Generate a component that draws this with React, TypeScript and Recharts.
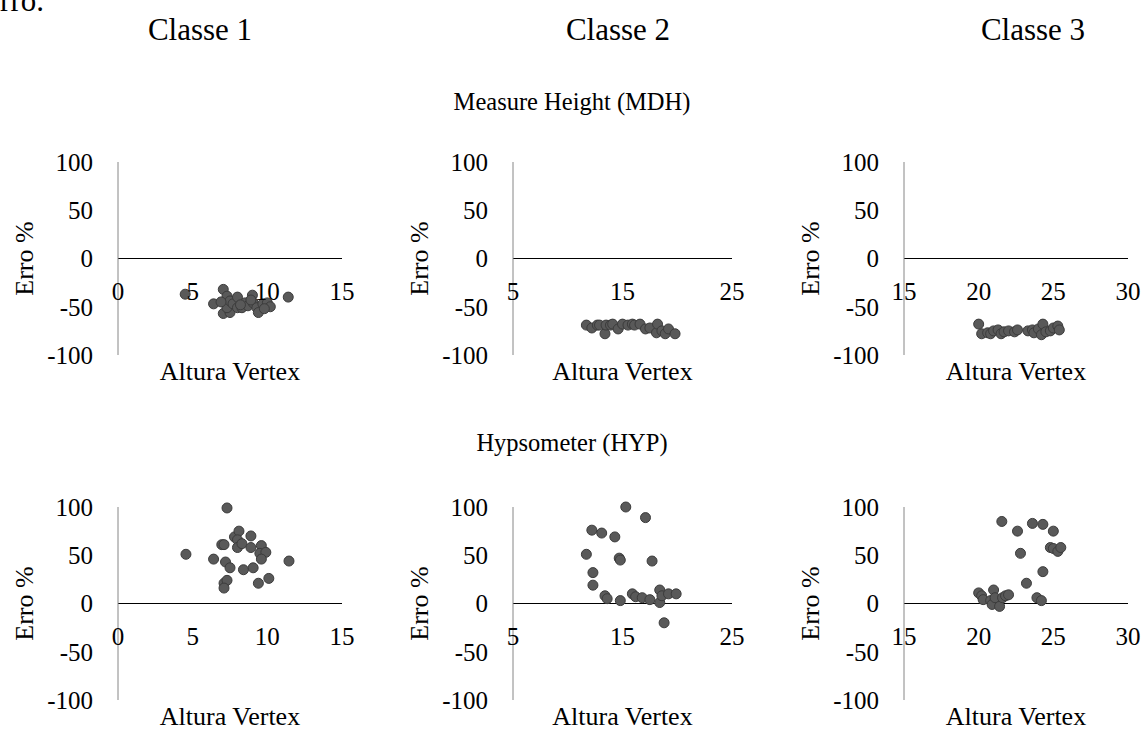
import { ScatterChart, Scatter, XAxis, YAxis, ReferenceLine, Label } from 'recharts';

const FONT = 'Liberation Serif, Times New Roman, Times, DejaVu Serif, serif';

// column / row titles
const classes = ['Classe 1', 'Classe 2', 'Classe 3'];
const rowTitles = ['Measure Height (MDH)', 'Hypsometer (HYP)'];

// x axis per class
const xDomains: [number, number][] = [
  [0, 15],
  [5, 25],
  [15, 30],
];
const xTicks = [
  [0, 5, 10, 15],
  [5, 15, 25],
  [15, 20, 25, 30],
];
const yTicks = [-100, -50, 0, 50, 100];

// MDH, Classe 1
const mdhC1 = [
  { x: 4.5, y: -37 }, { x: 7.05, y: -32 }, { x: 6.4, y: -47 }, { x: 7.3, y: -39 },
  { x: 7.05, y: -57 }, { x: 7.5, y: -56 }, { x: 7.3, y: -51 }, { x: 7.5, y: -44 },
  { x: 7.7, y: -47 }, { x: 8.0, y: -40 }, { x: 8.0, y: -51 }, { x: 8.3, y: -51 },
  { x: 8.5, y: -46 }, { x: 8.7, y: -49 }, { x: 9.0, y: -38 }, { x: 9.05, y: -46 },
  { x: 9.3, y: -51 }, { x: 9.4, y: -56 }, { x: 9.7, y: -47 }, { x: 10.0, y: -46 },
  { x: 10.2, y: -50 }, { x: 11.4, y: -40 }, { x: 8.2, y: -48 }, { x: 9.8, y: -52 },
  { x: 6.9, y: -45 }, { x: 8.9, y: -43 },
];

// MDH, Classe 2
const mdhC2 = [
  { x: 11.7, y: -69 }, { x: 12.2, y: -72 }, { x: 12.7, y: -69 }, { x: 12.9, y: -69 },
  { x: 13.4, y: -78 }, { x: 13.5, y: -69 }, { x: 13.9, y: -69 }, { x: 14.1, y: -68 },
  { x: 14.6, y: -73 }, { x: 15.0, y: -68 }, { x: 15.5, y: -69 }, { x: 15.9, y: -68 },
  { x: 16.1, y: -69 }, { x: 16.6, y: -68 }, { x: 17.1, y: -73 }, { x: 17.5, y: -72 },
  { x: 18.1, y: -77 }, { x: 18.2, y: -68 }, { x: 18.6, y: -75 }, { x: 18.9, y: -78 },
  { x: 19.2, y: -73 }, { x: 19.8, y: -78 },
];

// MDH, Classe 3
const mdhC3 = [
  { x: 20.0, y: -68 }, { x: 20.2, y: -78 }, { x: 20.6, y: -77 }, { x: 20.8, y: -78 },
  { x: 21.0, y: -75 }, { x: 21.3, y: -74 }, { x: 21.5, y: -78 }, { x: 21.7, y: -76 },
  { x: 22.0, y: -75 }, { x: 22.4, y: -76 }, { x: 22.6, y: -74 }, { x: 23.3, y: -75 },
  { x: 23.6, y: -74 }, { x: 23.7, y: -77 }, { x: 24.0, y: -73 }, { x: 24.2, y: -79 },
  { x: 24.3, y: -68 }, { x: 24.5, y: -76 }, { x: 24.8, y: -75 }, { x: 25.0, y: -72 },
  { x: 25.3, y: -70 }, { x: 25.4, y: -74 },
];

// HYP, Classe 1
const hypC1 = [
  { x: 7.3, y: 99 }, { x: 4.55, y: 51 }, { x: 6.4, y: 46 }, { x: 6.95, y: 61 },
  { x: 7.1, y: 61 }, { x: 7.2, y: 43 }, { x: 7.5, y: 37 }, { x: 7.1, y: 21 },
  { x: 7.3, y: 24 }, { x: 7.1, y: 16 }, { x: 7.8, y: 69 }, { x: 8.1, y: 75 },
  { x: 8.0, y: 66 }, { x: 8.0, y: 58 }, { x: 8.3, y: 62 }, { x: 8.4, y: 35 },
  { x: 8.9, y: 70 }, { x: 8.9, y: 58 }, { x: 9.05, y: 37 }, { x: 9.4, y: 21 },
  { x: 9.6, y: 60 }, { x: 9.5, y: 52 }, { x: 9.9, y: 53 }, { x: 9.6, y: 46 },
  { x: 10.1, y: 26 }, { x: 11.45, y: 44 },
];

// HYP, Classe 2
const hypC2 = [
  { x: 15.3, y: 100 }, { x: 17.1, y: 89 }, { x: 12.2, y: 76 }, { x: 13.1, y: 73 },
  { x: 14.3, y: 69 }, { x: 11.7, y: 51 }, { x: 14.7, y: 47 }, { x: 14.8, y: 45 },
  { x: 17.7, y: 44 }, { x: 12.3, y: 32 }, { x: 12.3, y: 19 }, { x: 13.4, y: 8 },
  { x: 13.6, y: 5 }, { x: 14.8, y: 3 }, { x: 15.9, y: 10 }, { x: 16.2, y: 7 },
  { x: 16.8, y: 6 }, { x: 17.5, y: 4 }, { x: 18.4, y: 14 }, { x: 18.4, y: 1 },
  { x: 18.6, y: 8 }, { x: 19.2, y: 10 }, { x: 19.9, y: 10 }, { x: 18.8, y: -20 },
];

// HYP, Classe 3
const hypC3 = [
  { x: 21.55, y: 85 }, { x: 23.6, y: 83 }, { x: 24.3, y: 82 }, { x: 22.6, y: 75 },
  { x: 25.0, y: 75 }, { x: 22.8, y: 52 }, { x: 24.8, y: 58 }, { x: 25.0, y: 57 },
  { x: 25.3, y: 54 }, { x: 25.5, y: 58 }, { x: 24.3, y: 33 }, { x: 23.2, y: 21 },
  { x: 23.9, y: 6 }, { x: 24.2, y: 3 }, { x: 20.0, y: 11 }, { x: 20.2, y: 8 },
  { x: 20.3, y: 4 }, { x: 20.8, y: 3 }, { x: 20.9, y: -1 }, { x: 21.0, y: 14 },
  { x: 21.1, y: 6 }, { x: 21.4, y: -3 }, { x: 21.6, y: 6 }, { x: 21.8, y: 8 },
  { x: 22.0, y: 9 },
];

const rows = [
  [mdhC1, mdhC2, mdhC3],
  [hypC1, hypC2, hypC3],
];

// plot rectangles (page px)
const colLeft = [118, 513, 904];
const colWidth = [224, 219, 224];
const rowTop = [161.5, 507];
const PLOT_H = 193;
const Y_W = 110;
const M_TOP = 20;
const M_RIGHT = 20;
const X_H = 50;

const dot = (p: any) => (
  <circle cx={p.cx} cy={p.cy} r={5} fill="#595959" stroke="#3c3c3c" strokeWidth={1} />
);

function Panel({ data, col, row }: { data: { x: number; y: number }[]; col: number; row: number }) {
  const w = Y_W + colWidth[col] + M_RIGHT;
  const h = M_TOP + PLOT_H + X_H;
  const tickY = M_TOP + PLOT_H / 2 + 41;

  return (
    <div style={{ position: 'absolute', left: colLeft[col] - Y_W, top: rowTop[row] - M_TOP, fontFamily: FONT }}>
      <ScatterChart width={w} height={h} margin={{ top: M_TOP, right: M_RIGHT, left: 0, bottom: 0 }}>
        <XAxis
          type="number"
          dataKey="x"
          domain={xDomains[col]}
          ticks={xTicks[col]}
          height={X_H}
          axisLine={false}
          tickLine={false}
          interval={0}
          tick={(p: any) => (
            <text x={p.x} y={tickY} textAnchor="middle" fontSize={25} fill="#000" style={{ fontFamily: FONT }}>
              {p.payload.value}
            </text>
          )}
        >
          <Label
            content={(p: any) => {
              const vb = p.viewBox;
              return (
                <text
                  x={vb.x + vb.width / 2}
                  y={vb.y + 25}
                  textAnchor="middle"
                  fontSize={26}
                  fill="#000"
                  style={{ fontFamily: FONT }}
                >
                  Altura Vertex
                </text>
              );
            }}
          />
        </XAxis>
        <YAxis
          type="number"
          dataKey="y"
          domain={[-100, 100]}
          ticks={yTicks}
          width={Y_W}
          tickSize={0}
          tickMargin={25}
          tickLine={false}
          axisLine={{ stroke: '#868686' }}
          tick={{ fill: '#000', fontSize: 25, style: { fontFamily: FONT } }}
        >
          <Label
            content={(p: any) => {
              const vb = p.viewBox;
              const cx = vb.x + vb.width - 94;
              const cy = vb.y + vb.height / 2;
              return (
                <text
                  x={cx}
                  y={cy}
                  transform={`rotate(-90 ${cx} ${cy})`}
                  textAnchor="middle"
                  dominantBaseline="central"
                  fontSize={26}
                  fill="#000"
                  style={{ fontFamily: FONT }}
                >
                  Erro %
                </text>
              );
            }}
          />
        </YAxis>
        <ReferenceLine y={0} stroke="#000" strokeWidth={1} />
        <Scatter data={data} shape={dot} isAnimationActive={false} />
      </ScatterChart>
    </div>
  );
}

export default function App() {
  const headerX = [200, 618, 1033];
  return (
    <div
      style={{
        position: 'absolute',
        left: 0,
        top: 0,
        width: 1145,
        height: 731,
        overflow: 'hidden',
        background: '#fff',
        fontFamily: FONT,
      }}
    >
      <svg
        width={1145}
        height={731}
        style={{ position: 'absolute', left: 0, top: 0, pointerEvents: 'none', fontFamily: FONT }}
      >
        <text x={44} y={11} textAnchor="end" fontSize={31} fill="#000">
          erro.
        </text>
        {classes.map((c, i) => (
          <text key={c} x={headerX[i]} y={40} textAnchor="middle" fontSize={31} fill="#000">
            {c}
          </text>
        ))}
        <text x={572} y={110} textAnchor="middle" fontSize={24.5} fill="#000">
          {rowTitles[0]}
        </text>
        <text x={572} y={451} textAnchor="middle" fontSize={24.5} fill="#000">
          {rowTitles[1]}
        </text>
      </svg>
      {rows.map((r, ri) => r.map((d, ci) => <Panel key={`${ri}-${ci}`} data={d} col={ci} row={ri} />))}
    </div>
  );
}
